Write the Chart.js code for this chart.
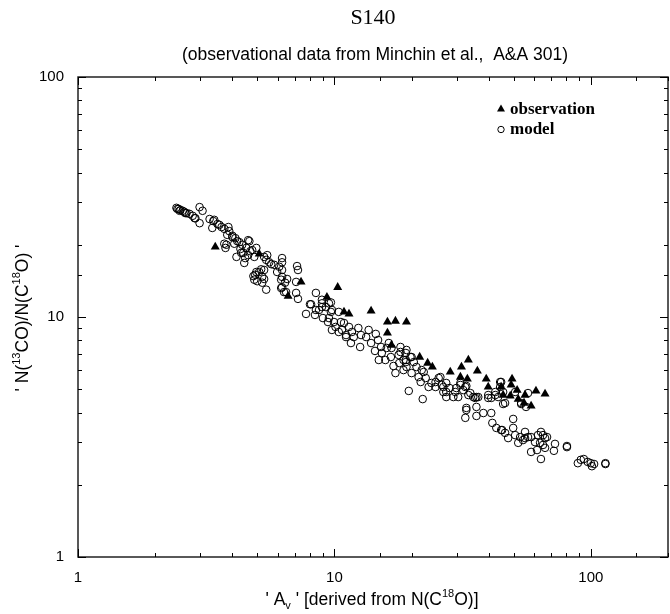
<!DOCTYPE html>
<html>
<head>
<meta charset="utf-8">
<script src="https://cdn.jsdelivr.net/npm/chart.js@4"></script>
<style>
html,body{margin:0;padding:0;background:#fff}
</style>
</head>
<body>
<div style="width:670px;height:614px"><canvas id="chart" width="670" height="614"></canvas></div>
<script>
/* DATA */

const obsX=[3.43,5.09,6.60,7.41,9.35,10.3,10.9,11.4,13.9,16.1,17.3,19.1,16.1,16.7,21.5,23.1,24.1,28.3,31.3,33.3,36.1,31.0,33.0,39.1,49.3,48.9,39.8,51.6,45.5,48.5,52.1,55.4,54.9,58.5,61.1,66.3,44.7];
const obsY=[19.6,18.3,12.2,14.0,12.1,13.3,10.5,10.3,10.6,9.53,9.62,9.53,8.58,7.64,6.81,6.43,6.19,5.90,6.19,6.62,5.96,5.62,5.52,5.52,5.52,5.21,5.11,4.96,4.73,4.69,4.55,4.73,4.38,4.26,4.92,4.78,5.11];

const modX=[
2.42,2.47,2.51,2.56,2.60,2.65,2.72,2.80,2.87,2.44,2.49,2.62,2.98,3.06,2.85,2.98,
3.26,3.37,3.50,3.63,3.34,3.72,3.89,3.82,4.00,4.11,4.26,4.07,4.37,4.61,4.53,4.70,4.33,4.15,3.79,3.76,
4.49,4.45,4.61,4.87,4.96,5.32,5.57,5.82,6.09,6.25,5.98,6.25,6.42,6.20,6.36,4.91,5.09,5.23,5.00,5.23,5.42,5.32,4.87,
3.40,3.56,3.86,4.00,4.18,3.72,4.30,4.41,4.66,4.78,5.47,5.42,5.67,6.25,6.54,6.25,7.15,7.21,7.09,7.21,4.96,5.18,5.32,4.83,
8.47,8.94,8.11,7.75,8.47,8.94,9.69,9.78,9.52,10.1,10.6,10.7,11.1,
6.25,6.20,6.48,7.09,8.03,8.40,8.71,8.94,9.27,9.52,9.69,9.02,9.44,9.96,10.4,9.78,10.4,10.9,11.4,11.1,11.7,11.9,11.6,12.4,12.7,12.6,13.3,13.6,13.9,14.5,14.8,15.2,14.4,15.3,15.8,14.9,16.6,17.0,17.8,17.9,18.6,17.3,19.0,19.1,16.0,16.7,
19.5,22.1,16.3,18.1,20.0,19.0,20.9,22.3,23.3,24.8,25.9,26.6,27.3,29.1,29.6,31.0,32.4,33.3,34.8,35.8,32.7,35.8,39.8,40.9,42.4,44.3,46.3,50.7,53.5,55.9,
18.1,19.0,19.8,18.6,20.4,19.1,21.9,20.0,21.3,22.7,21.7,23.9,24.8,25.5,26.2,26.6,27.3,28.1,27.3,30.4,29.9,31.0,31.8,32.7,33.9,35.4,36.4,39.8,42.4,43.5,44.7,45.5,32.7,32.4,35.8,38.1,40.9,41.3,42.8,45.1,46.3,49.8,49.8,47.6,50.7,53.0,55.4,55.4,52.1,
44.3,45.5,56.9,53.5,44.7,54.4,56.9,58.5,60.6,62.2,63.9,65.1,66.3,67.5,63.4,65.1,66.3,61.7,58.5,72.5,71.8,63.9,80.7,80.7,89.0,91.4,93.9,97.3,100,103,101,114,114];
const modY=[
28.5,28.2,27.9,27.7,27.4,27.1,26.9,26.4,25.8,28.2,27.7,27.1,28.7,27.7,25.8,24.6,
25.6,25.1,24.4,23.7,23.5,23.3,22.8,22.0,21.5,21.3,20.5,20.2,20.0,20.9,19.4,18.8,18.5,17.8,20.0,19.4,
17.6,16.8,18.1,17.8,19.4,17.8,16.9,16.5,16.2,17.6,15.4,14.7,13.9,13.2,12.7,15.0,15.4,14.7,14.1,13.9,13.0,15.7,14.3,
25.4,24.2,23.7,21.8,20.7,20.2,19.2,18.5,20.7,19.0,18.1,17.3,16.6,15.7,14.4,13.3,16.3,15.7,14.0,11.9,15.4,15.8,14.4,14.8,
12.6,11.8,11.3,10.3,10.7,11.0,11.5,10.7,9.9,9.09,9.53,8.83,8.25,
16.9,14.3,12.7,12.6,11.3,10.2,10.7,11.4,11.0,11.4,10.5,9.9,9.53,9.53,10.5,8.83,8.66,9.44,9.09,8.41,8.66,8.25,7.79,9.00,8.41,7.50,8.25,8.83,7.79,8.50,8.02,7.50,7.22,7.08,6.62,6.62,6.81,6.25,6.95,6.43,6.01,5.84,6.62,7.29,7.43,7.43,
4.92,4.55,7.79,7.50,6.81,6.49,6.19,5.90,5.11,5.36,5.62,5.11,4.87,4.64,4.87,5.21,5.11,4.73,4.64,4.64,4.18,4.22,4.73,4.60,4.87,5.36,4.38,4.87,4.38,4.22,
7.15,7.08,6.81,6.62,6.49,6.19,6.01,5.84,5.62,5.57,5.36,5.31,5.11,5.57,5.21,4.87,5.31,5.06,4.64,4.64,5.06,5.31,4.96,5.16,4.82,4.60,4.64,4.60,4.73,4.64,5.36,4.34,4.10,3.80,3.87,3.98,3.98,3.62,3.45,3.38,3.29,3.76,3.45,3.13,3.22,3.16,3.32,3.13,2.99,
5.11,4.87,4.82,4.34,3.38,3.07,3.16,3.16,3.01,3.22,3.32,3.22,3.13,3.16,2.99,2.93,2.85,2.79,2.74,2.96,2.77,2.56,2.90,2.87,2.46,2.54,2.56,2.49,2.46,2.44,2.39,2.46,2.44];

const xTickLabels=["1","10","100"];
const yTickLabels=["1","10","100"];

const SANS='"Liberation Sans", Arial, sans-serif';
const SERIF='"Liberation Serif", "Times New Roman", serif';

/* TEXT WITH SUPER/SUBSCRIPTS */

function richWidth(ctx,parts,big,small){
let w=0;
parts.forEach(p=>{
ctx.font=(p.s?small:big)+"px "+SANS;
w+=ctx.measureText(p.t).width;
});
return w;
}

function drawRich(ctx,parts,cx,y,big,small){
let x=cx-richWidth(ctx,parts,big,small)/2;
ctx.textAlign="left";
ctx.textBaseline="alphabetic";
parts.forEach(p=>{
ctx.font=(p.s?small:big)+"px "+SANS;
const dy=p.s==="sup"?-big*0.45:p.s==="sub"?big*0.25:0;
ctx.fillText(p.t,x,y+dy);
x+=ctx.measureText(p.t).width;
});
}

/* FRAME, INWARD TICKS, TITLES, LEGEND */

const decor={
id:"decor",
afterDraw(chart){
const ctx=chart.ctx;
const {left,right,top,bottom}=chart.chartArea;
const xs=chart.scales.x, ys=chart.scales.y;
ctx.save();
ctx.strokeStyle="#222";
ctx.lineWidth=1.5;
ctx.strokeRect(left,top,right-left,bottom-top);

ctx.lineWidth=1;
ctx.strokeStyle="#000";
ctx.beginPath();
xs.ticks.forEach(t=>{
const px=Math.round(xs.getPixelForValue(t.value))+0.5;
const major=Math.abs(Math.log10(t.value)-Math.round(Math.log10(t.value)))<1e-6;
const len=major?8:4;
ctx.moveTo(px,bottom);ctx.lineTo(px,bottom-len);
ctx.moveTo(px,top);ctx.lineTo(px,top+len);
});
ys.ticks.forEach(t=>{
const py=Math.round(ys.getPixelForValue(t.value))+0.5;
const major=Math.abs(Math.log10(t.value)-Math.round(Math.log10(t.value)))<1e-6;
const len=major?8:4;
ctx.moveTo(left,py);ctx.lineTo(left+len,py);
ctx.moveTo(right,py);ctx.lineTo(right-len,py);
});
ctx.stroke();

ctx.fillStyle="#000";
ctx.textAlign="center";
ctx.textBaseline="alphabetic";
ctx.font="22px "+SERIF;
ctx.fillText("S140",373,24);
ctx.font="17.5px "+SANS;
ctx.fillText("(observational data from Minchin et al.,  A&A 301)",375,60);

drawRich(ctx,[{t:"' A"},{t:"v",s:"sub"},{t:" ' [derived from N(C"},{t:"18",s:"sup"},{t:"O)]"}],372,605,17.5,11);

ctx.save();
ctx.translate(28,318);
ctx.rotate(-Math.PI/2);
drawRich(ctx,[{t:"' N("},{t:"13",s:"sup"},{t:"CO)/N(C"},{t:"18",s:"sup"},{t:"O) '"}],0,0,17.5,11);
ctx.restore();

/* legend */
ctx.beginPath();
ctx.moveTo(501,104.5);ctx.lineTo(505,111.5);ctx.lineTo(497,111.5);ctx.closePath();
ctx.fill();
ctx.beginPath();
ctx.arc(501,129.5,3.2,0,Math.PI*2);
ctx.lineWidth=1;
ctx.stroke();
ctx.font="bold 17px "+SERIF;
ctx.textAlign="left";
ctx.fillText("observation",510,114);
ctx.fillText("model",510,134);
ctx.restore();
}
};

const zip=(xa,ya)=>xa.map((x,i)=>({x,y:ya[i]}));

const tickOpts=labels=>({
color:"#000",
font:{family:SANS,size:15},
autoSkip:false,
maxRotation:0,
callback:v=>labels.includes(String(v))?String(v):""
});

const noEdgePad=s=>{s.paddingLeft=0;s.paddingRight=0;s.paddingTop=0;s.paddingBottom=0;};

new Chart(document.getElementById("chart"),{
type:"scatter",
data:{
datasets:[
{
label:"model",
data:zip(modX,modY),
pointStyle:"circle",
pointRadius:3.8,
borderColor:"#000",
borderWidth:1,
backgroundColor:"rgba(0,0,0,0)"
},
{
label:"observation",
data:zip(obsX,obsY),
pointStyle:"triangle",
pointRadius:5.2,
borderWidth:0,
backgroundColor:"#000"
}
]
},
options:{
responsive:false,
animation:false,
devicePixelRatio:1,
layout:{autoPadding:false,padding:{top:77,right:2,left:0,bottom:0}},
plugins:{legend:{display:false},tooltip:{enabled:false}},
scales:{
x:{
type:"logarithmic",
min:1,max:200,
grid:{display:false,drawTicks:false},
border:{display:false},
ticks:{...tickOpts(xTickLabels),padding:12},
afterFit:s=>{s.height=57;noEdgePad(s);}
},
y:{
type:"logarithmic",
min:1,max:100,
grid:{display:false,drawTicks:false},
border:{display:false},
ticks:{...tickOpts(yTickLabels),padding:14},
afterFit:s=>{s.width=78;noEdgePad(s);}
}
}
},
plugins:[decor]
});
</script>
</body>
</html>
